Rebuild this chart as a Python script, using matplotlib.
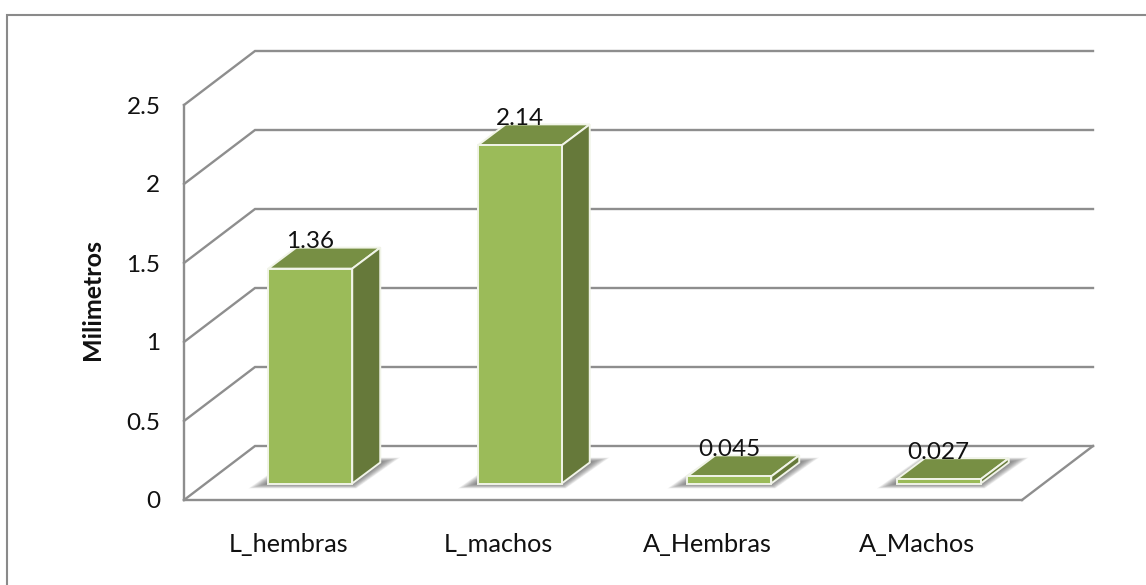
import matplotlib
matplotlib.use('Agg')
import matplotlib.pyplot as plt
from matplotlib.lines import Line2D
from matplotlib.patches import Polygon

categorias = ['L_hembras', 'L_machos', 'A_Hembras', 'A_Machos']
valores = [1.36, 2.14, 0.045, 0.027]
rotulos = ['1.36', '2.14', '0.045', '0.027']
ticks_y = [0, 0.5, 1, 1.5, 2, 2.5]
rotulos_y = ['0', '0.5', '1', '1.5', '2', '2.5']

plt.rcParams['font.family'] = ['Lato', 'DejaVu Sans']

W, H = 1146, 585
fig = plt.figure(figsize=(W / 100, H / 100), dpi=100, facecolor='white')
# moldura do grafico: so aparecem os lados de cima e da esquerda
fig.add_artist(Line2D([7 / W, 7 / W, 1], [0, 1 - 15 / H, 1 - 15 / H], transform=fig.transFigure,
                      color='#8a8a8a', linewidth=1.5, solid_joinstyle='miter'))

ax = fig.add_axes([184 / W, 1 - 500 / H, 838 / W, 395 / H])
ax.set_xlim(0, 4)
ax.set_ylim(0, 2.5)

# profundidade do grafico 3D, em unidades dos dados
px_x = 4 / 838
px_y = 2.5 / 395
fundo_x, fundo_y = 71 * px_x, 54 * px_y
prof_x, prof_y = 28 * px_x, 21 * px_y
desl_x, desl_y = 21.5 * px_x, 16.5 * px_y
largura = 84 * px_x

cinza = '#8e8e8e'
for t in ticks_y:
    ax.plot([0, fundo_x, 4 + fundo_x], [t, t + fundo_y, t + fundo_y], color=cinza, lw=1.7,
            clip_on=False, zorder=1, solid_joinstyle='miter')
ax.plot([4, 4 + fundo_x], [0, fundo_y], color=cinza, lw=1.7, clip_on=False, zorder=1)

for s in ['top', 'right']:
    ax.spines[s].set_visible(False)
for s in ['left', 'bottom']:
    ax.spines[s].set_color(cinza)
    ax.spines[s].set_linewidth(1.7)
    ax.spines[s].set_zorder(2)
ax.patch.set_visible(False)

ax.set_xticks([i + 0.5 for i in range(4)])
ax.set_xticklabels(categorias, fontsize=18.2, color='#111111')
ax.set_yticks(ticks_y)
ax.set_yticklabels(rotulos_y, fontsize=17.5, color='#111111')
ax.tick_params(axis='x', length=0, pad=24)
ax.tick_params(axis='y', length=0, pad=17)
fig.text(92 / W, 1 - 300 / H, 'Milimetros', rotation=90, fontsize=18, fontweight='bold',
         ha='center', va='center', color='#111111')

posicoes = [i + 0.5 + desl_x for i in range(4)]

# sombra difusa no piso
n = 24
for xc in posicoes:
    x0, x1 = xc - largura / 2, xc + largura / 2
    y0 = desl_y
    for k in range(n):
        m = 1 - k / n
        ex, ey = 20 * m * px_x, 5 * m * px_y
        sombra = [(x0 - ex, y0 - ey), (x1 + ex * 0.2, y0 - ey),
                  (x1 + prof_x + ex, y0 + prof_y + ey), (x0 + prof_x - ex * 0.2, y0 + prof_y + ey)]
        ax.add_patch(Polygon(sombra, closed=True, facecolor='#555555', edgecolor='none',
                             alpha=0.045, zorder=3, clip_on=False))

# barras
ax.bar(posicoes, valores, width=largura, bottom=desl_y, color='#9bbb59', edgecolor='#f1f4e8',
       linewidth=1.4, zorder=5, clip_on=False)
for xc, v, r in zip(posicoes, valores, rotulos):
    x0, x1 = xc - largura / 2, xc + largura / 2
    b, t = desl_y, desl_y + v
    topo = [(x0, t), (x1, t), (x1 + prof_x, t + prof_y), (x0 + prof_x, t + prof_y)]
    lado = [(x1, b), (x1 + prof_x, b + prof_y), (x1 + prof_x, t + prof_y), (x1, t)]
    ax.add_patch(Polygon(topo, closed=True, facecolor='#778f44', edgecolor='#f1f4e8',
                         linewidth=1.4, zorder=4, clip_on=False))
    ax.add_patch(Polygon(lado, closed=True, facecolor='#66793a', edgecolor='#f1f4e8',
                         linewidth=1.4, zorder=4, clip_on=False))
    ax.text(xc, t + 27 * px_y, r, ha='center', va='center', fontsize=17.5, color='#111111', zorder=6)

fig.savefig('out.png', dpi=100)
